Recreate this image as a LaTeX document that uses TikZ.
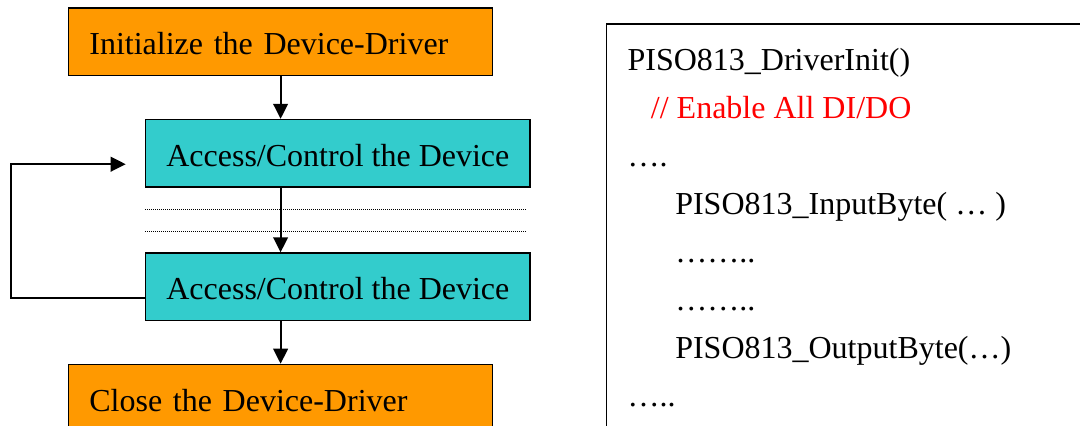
\documentclass[tikz,border=0pt]{standalone}
\usepackage{fontspec}
\setmainfont{Liberation Serif}
\usepackage{xcolor}
\usetikzlibrary{calc,positioning,arrows.meta}
\definecolor{drvorange}{RGB}{255,153,0}
\definecolor{acccyan}{RGB}{51,204,204}
\tikzset{
  drvbox/.style={ % image of a driver open/close step
    draw, rectangle, line width=1.1pt, fill=drvorange,
    minimum height=50.5pt, text width=286.8pt, align=left,
    inner xsep=15.5pt, inner ysep=0pt, text=black,
    text height=19.5pt, text depth=0pt,
    font=\fontsize{24}{28}\selectfont
  },
  accbox/.style={ % image of an access/control step
    draw, rectangle, line width=1.1pt, fill=acccyan,
    minimum height=50.5pt, minimum width=288.2pt,
    inner sep=0pt, text=black,
    text height=19.5pt, text depth=0pt,
    font=\fontsize{24}{28}\selectfont
  },
  codebox/.style={ % frame round the code listing
    draw, rectangle, line width=1.1pt,
    minimum width=400pt, minimum height=330pt, inner sep=0pt
  },
  codeline/.style={
    anchor=base west, inner sep=0pt, text=black,
    font=\fontsize{24}{28}\selectfont
  },
  flow/.style={
    line width=1.5pt, -{Triangle[length=11.25pt,width=11pt]}
  },
  sepline/.style={
    line width=0.8pt, dash pattern=on 0.75pt off 0.75pt
  }
}
\begin{document}
\begin{tikzpicture}[x=1pt, y=1pt]
  \useasboundingbox (0,0) rectangle (810,-318.75);
  \clip (0,0) rectangle (810,-318.75);

  \node[drvbox, anchor=north west] (init) at (51,-5.5) {Initialize the Device-Driver};
  \node[accbox, below right=32pt and 57.75pt of init.south west] (acc1) {Access/Control the Device};
  \node[accbox, below=48.5pt of acc1] (acc2) {Access/Control the Device};
  \node[drvbox, below=32pt of acc2.south west, anchor=north west, xshift=-57.75pt] (close) {Close the Device-Driver};

  % dotted separators between the two access steps
  \draw[sepline] ($(acc1.south west)+(0,-16.3)$) -- ++(286.3,0);
  \draw[sepline] ($(acc1.south west)+(0,-33.2)$) -- ++(286.3,0);

  \draw[flow] (init) -- (acc1.north -| init);
  \draw[flow] (acc1.south -| init) -- (acc2.north -| init);
  \draw[flow] (acc2.south -| init) -- (close);

  % loop back
  \coordinate (loopout) at ($(acc2.west)+(0,-8.25)$);
  \coordinate (loopin) at ($(acc1.west)+(-14.5,-8.25)$);
  \draw[flow] (loopout) -- ++(-100.5,0) |- (loopin);

  \node[codebox, anchor=north west] (code) at (454.5,-17.5) {};
  \node[codeline] (l1) at ($(code.north west)+(16,-35)$) {PISO813\_DriverInit()};
  \node[codeline, text=red] (l2) at ($(code.north west)+(33.5,-71)$) {// Enable All DI/DO};
  \node[codeline] (l3) at ($(code.north west)+(16,-107)$) {….};
  \node[codeline] (l4) at ($(code.north west)+(51.75,-143)$) {PISO813\_InputByte( … )};
  \node[codeline] (l5) at ($(code.north west)+(51.75,-179)$) {……..};
  \node[codeline] (l6) at ($(code.north west)+(51.75,-215)$) {……..};
  \node[codeline] (l7) at ($(code.north west)+(51.75,-251)$) {PISO813\_OutputByte(…)};
  \node[codeline] (l8) at ($(code.north west)+(16,-287)$) {…..};
\end{tikzpicture}
\end{document}
